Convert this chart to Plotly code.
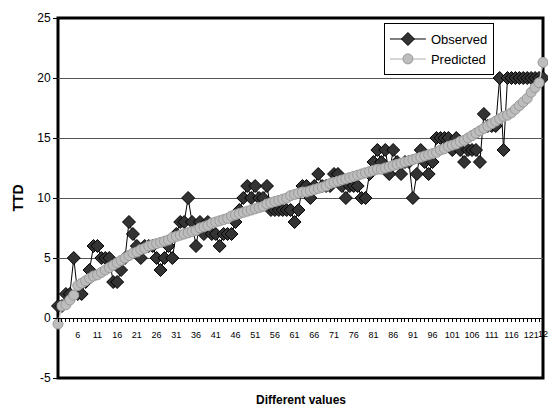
import plotly.graph_objects as go

categories = list(range(1, 125))

observed = [
    1, 1, 2, 2, 5, 2, 2, 3, 4, 6,
    6, 5, 5, 5, 3, 3, 4, 5, 8, 7,
    6, 5, 6, 6, 6, 5, 4, 5, 6, 5,
    7, 8, 8, 10, 8, 6, 8, 7, 8, 7,
    7, 6, 7, 7, 7, 8, 9, 10, 11, 10,
    11, 10, 10, 11, 9, 9, 9, 9, 9, 9,
    8, 9, 11, 11, 10, 11, 12, 11, 11, 11,
    12, 12, 11, 10, 11, 11, 11, 10, 10, 12,
    13, 14, 13, 14, 12, 14, 13, 12, 13, 13,
    10, 12, 14, 13, 12, 13, 15, 15, 15, 15,
    14, 15, 14, 13, 14, 14, 14, 13, 17, 16,
    16, 16, 20, 14, 20, 20, 20, 20, 20, 20,
    20, 20, 20, 20,
]

predicted = [
    -0.5, 1.0, 1.1, 1.5, 1.9, 2.7, 2.9, 3.1, 3.3, 3.5,
    3.6, 3.8, 4.0, 4.2, 4.4, 4.6, 4.8, 5.0, 5.2, 5.4,
    5.5, 5.7, 5.8, 6.0, 6.1, 6.2, 6.3, 6.4, 6.5, 6.7,
    6.8, 6.9, 7.0, 7.1, 7.2, 7.3, 7.5, 7.6, 7.7, 7.9,
    8.0, 8.1, 8.2, 8.3, 8.5, 8.6, 8.7, 8.8, 8.9, 9.0,
    9.1, 9.2, 9.3, 9.5, 9.6, 9.7, 9.8, 9.9, 10.0, 10.2,
    10.3, 10.4, 10.5, 10.5, 10.6, 10.7, 10.8, 10.9, 11.0, 11.2,
    11.3, 11.4, 11.5, 11.6, 11.7, 11.8, 11.9, 12.0, 12.1, 12.2,
    12.3, 12.4, 12.4, 12.5, 12.6, 12.7, 12.8, 12.9, 13.0, 13.1,
    13.2, 13.3, 13.4, 13.5, 13.6, 13.7, 13.8, 14.0, 14.1, 14.3,
    14.4, 14.5, 14.7, 14.8, 15.0, 15.2, 15.4, 15.6, 15.8, 16.0,
    16.2, 16.4, 16.6, 16.8, 16.9, 17.1, 17.4, 17.7, 18.0, 18.3,
    18.8, 19.2, 19.6, 21.3,
]

y_ticks = [-5, 0, 5, 10, 15, 20, 25]
y_ticklabels = ["-5", "0", "5", "10", "15", "20", "25"]
x_label_step = 5

FONT = "Liberation Sans, Arial, sans-serif"

fig = go.Figure()
fig.add_trace(go.Scatter(
    x=categories, y=observed, name="Observed", mode="lines+markers",
    line=dict(color="black", width=1),
    marker=dict(symbol="diamond", size=10, color="#333333",
                line=dict(color="black", width=1)),
    cliponaxis=False,
))
fig.add_trace(go.Scatter(
    x=categories, y=predicted, name="Predicted", mode="lines+markers",
    line=dict(color="#c8c8c8", width=1.5),
    marker=dict(symbol="circle", size=10, color="#bdbdbd",
                line=dict(color="#9a9a9a", width=1)),
    cliponaxis=False,
))

ticktext = [str(c) if (c - 1) % x_label_step == 0 and c > 1 else "" for c in categories]

fig.update_layout(
    width=548, height=414,
    margin=dict(l=58, r=5, t=18, b=36),
    paper_bgcolor="white", plot_bgcolor="white",
    font=dict(family=FONT, color="black", size=12),
    showlegend=True,
    legend=dict(x=0.672, y=0.986, xanchor="left", yanchor="top",
                bgcolor="white", bordercolor="black", borderwidth=1,
                font=dict(size=13, family=FONT), tracegroupgap=0,
                itemwidth=36),
    xaxis=dict(
        range=[1, 124], anchor="free", position=5 / 30,
        tickmode="array", tickvals=categories, ticktext=ticktext,
        ticks="outside", ticklen=3, tickwidth=1, tickcolor="black",
        ticklabelstandoff=5,
        tickfont=dict(size=9, family=FONT),
        showline=True, linecolor="black", linewidth=1,
        showgrid=False, zeroline=False,
    ),
    yaxis=dict(
        range=[-5, 25], tickmode="array", tickvals=y_ticks, ticktext=y_ticklabels,
        ticks="outside", ticklen=4, tickcolor="black",
        tickfont=dict(size=12, family=FONT),
        showgrid=True, gridcolor="#555555", gridwidth=1,
        zeroline=False, showline=False,
        title=dict(text="<b>TTD</b>", font=dict(size=14, family=FONT), standoff=10),
    ),
    shapes=[dict(type="rect", xref="paper", yref="paper", x0=0, x1=1, y0=0, y1=1,
                 line=dict(color="black", width=3), layer="below")],
    annotations=[
        dict(text="<b>Different values</b>", xref="paper", yref="paper",
             x=0.5, y=-0.061, xanchor="center", yanchor="middle",
             showarrow=False, font=dict(size=12, family=FONT)),
        dict(text="12", xref="paper", yref="paper", x=(550 - 58) / 485, y=0.122,
             xanchor="right", yanchor="middle", showarrow=False,
             font=dict(size=9, family=FONT)),
    ],
)

fig.write_html("out.html")
